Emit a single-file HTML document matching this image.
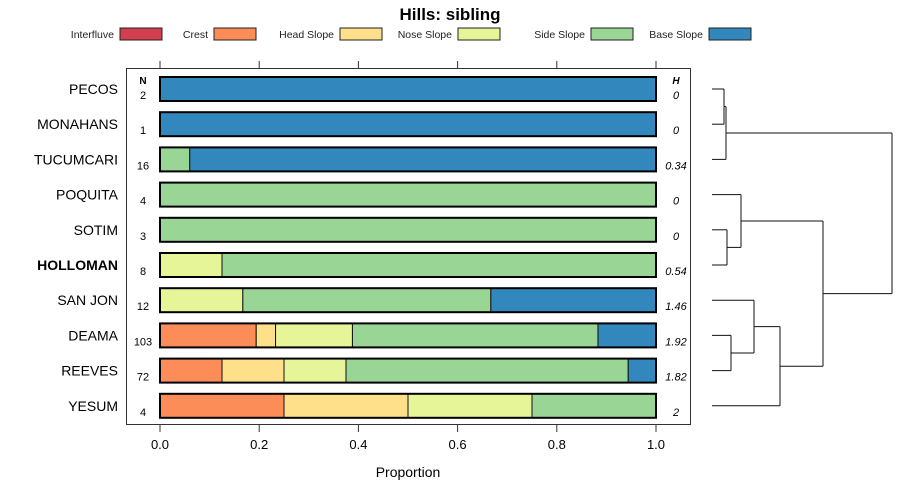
<!DOCTYPE html>
<html><head><meta charset="utf-8"><style>
body{margin:0;background:#fff;font-family:"Liberation Sans",sans-serif}
svg{display:block}
</style></head><body>
<svg id="chart" width="900" height="500" xmlns="http://www.w3.org/2000/svg" font-family="Liberation Sans, sans-serif"></svg>
<script>
const classes=["Interfluve","Crest","Head Slope","Nose Slope","Side Slope","Base Slope"];
const colors=["#D53E4F","#FC8D59","#FEE08B","#E6F598","#99D594","#3288BD"];
const series=["PECOS","MONAHANS","TUCUMCARI","POQUITA","SOTIM","HOLLOMAN","SAN JON","DEAMA","REEVES","YESUM"];
const nValues=[2,1,16,4,3,8,12,103,72,4];
const hValues=["0","0","0.34","0","0","0.54","1.46","1.92","1.82","2"];
const proportions=[
[0,0,0,0,0,1],
[0,0,0,0,0,1],
[0,0,0,0,0.06,0.94],
[0,0,0,0,1,0],
[0,0,0,0,1,0],
[0,0,0,0.125,0.875,0],
[0,0,0,0.167,0.5,0.333],
[0,0.194,0.039,0.155,0.495,0.117],
[0,0.125,0.125,0.125,0.569,0.056],
[0,0.25,0.25,0.25,0.25,0]
];
const xTicks=[0,0.2,0.4,0.6,0.8,1.0];
const xTickLabels=["0.0","0.2","0.4","0.6","0.8","1.0"];
const legendBoxX=[120,214,340,458,591,709];

const svg=document.getElementById('chart');
const NS="http://www.w3.org/2000/svg";
function mk(tag,attrs,parent){const e=document.createElementNS(NS,tag);for(const k in attrs)e.setAttribute(k,attrs[k]);(parent||svg).appendChild(e);return e;}
const xs=v=>160+v*496;
const ys=i=>89+i*35.2;

let t=mk('text',{x:450,y:20,'text-anchor':'middle','font-size':17,'font-weight':'bold'});t.textContent="Hills: sibling";



classes.forEach((c,i)=>{
  const g=mk('g',{});
  
  
  const tx=mk('text',{x:legendBoxX[i]-6,y:38,'text-anchor':'end','font-size':10.5,fill:'#222'},g);tx.textContent=c;
  mk('rect',{x:legendBoxX[i],y:28,width:42,height:12,fill:colors[i],stroke:'#222','stroke-width':1},g);
});

const panel=mk('rect',{x:126.5,y:68.5,width:564,height:356,fill:'none',stroke:'#333','stroke-width':1});



xTicks.forEach((v,i)=>{
  mk('line',{x1:xs(v),x2:xs(v),y1:61,y2:68,stroke:'#333'});
  mk('line',{x1:xs(v),x2:xs(v),y1:425,y2:432,stroke:'#333'});
  const l=mk('text',{x:xs(v),y:449,'text-anchor':'middle','font-size':13});l.textContent=xTickLabels[i];
  
  
});
t=mk('text',{x:408,y:477,'text-anchor':'middle','font-size':14});t.textContent="Proportion";



t=mk('text',{x:143,y:84,'text-anchor':'middle','font-size':10,'font-weight':'bold'});t.textContent="N";
t=mk('text',{x:676,y:84,'text-anchor':'middle','font-size':10,'font-weight':'bold','font-style':'italic'});t.textContent="H";

series.forEach((s,i)=>{
  const y=ys(i);
  const lab=mk('text',{x:118,y:y+5,'text-anchor':'end','font-size':14,'font-weight':s==="HOLLOMAN"?'bold':'normal'});lab.textContent=s;
  
  
  const n=mk('text',{x:143,y:y+10,'text-anchor':'middle','font-size':11});n.textContent=nValues[i];
  
  
  const h=mk('text',{x:676,y:y+10,'text-anchor':'middle','font-size':11,'font-style':'italic'});h.textContent=hValues[i];
  
  
  let cum=0;
  proportions[i].forEach((p,k)=>{
    if(p<=0)return;
    const r=mk('rect',{x:xs(cum),y:y-12,width:xs(cum+p)-xs(cum),height:24,fill:colors[k],stroke:'#111','stroke-width':1});
    
    
    cum+=p;
  });
  mk('rect',{x:xs(0),y:y-12,width:xs(1)-xs(0),height:24,fill:'none',stroke:'#000','stroke-width':2});
});

// dendrogram
const dg=mk('g',{fill:'none',stroke:'#111','stroke-width':1});


const L=712;
function seg(x1,y1,x2,y2){mk('line',{x1,y1,x2,y2},dg);}
function merge(xa,ya,xb,yb,xm){seg(xa,ya,xm,ya);seg(xb,yb,xm,yb);seg(xm,ya,xm,yb);return (ya+yb)/2;}
let a=merge(L,ys(0),L,ys(1),724);
let g1=merge(724,a,L,ys(2),726);
let b=merge(L,ys(4),L,ys(5),727);
let g2=merge(L,ys(3),727,b,741);
let c=merge(L,ys(7),L,ys(8),731);
let d=merge(L,ys(6),731,c,754);
let g3=merge(754,d,L,ys(9),780);
let e=merge(741,g2,780,g3,823);
merge(726,g1,823,e,892);
</script>
</body></html>
